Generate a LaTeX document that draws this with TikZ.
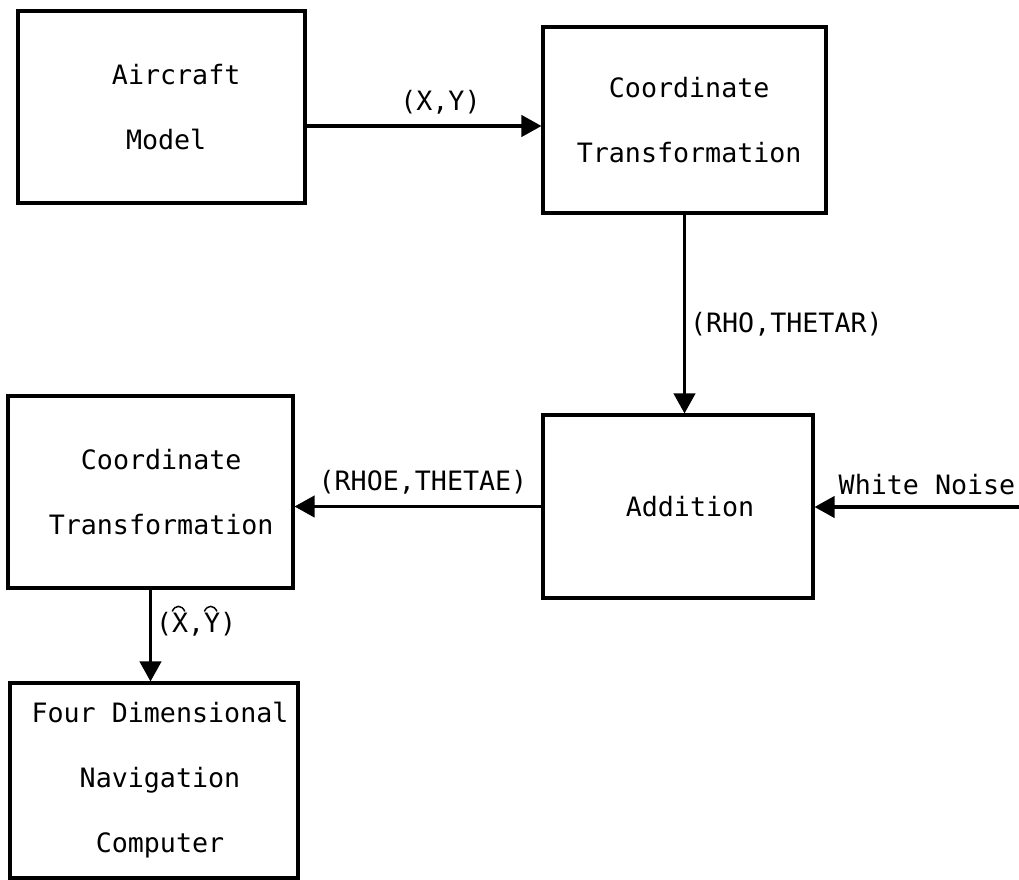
\documentclass[tikz,border=0pt]{standalone}
\usepackage{fontspec}
\setmonofont{DejaVu Sans Mono}
\usetikzlibrary{arrows.meta,calc}
\newcommand{\pushr}[1]{\hspace*{#1}}
\begin{document}
\begin{tikzpicture}[x=0.75pt,y=-0.75pt,
  every node/.style={font=\ttfamily\fontsize{20pt}{48.75pt}\selectfont},
  box/.style={draw,line width=2.3pt,align=center,inner sep=0pt},
  arr/.style={line width=2.3pt,-{Triangle[length=15pt,width=16pt]}},
  lbl/.style={inner sep=3pt},
  lblup/.style={inner xsep=3pt,inner ysep=8pt},
  hat/.style={line width=1.1pt}]
\useasboundingbox (0,0) rectangle (1019,880);
\node[box,minimum width=215.25pt,minimum height=144pt] (am) at (161.5,107) {\pushr{22pt}Aircraft\\\pushr{7pt}Model};
\node[box,minimum width=212.25pt,minimum height=139.5pt] (ct1) at (684.5,120) {\pushr{7pt}Coordinate\\\pushr{7pt}Transformation};
\node[box,minimum width=202.5pt,minimum height=137.25pt] (add) at (678,506.5) {\pushr{18pt}Addition};
\node[box,minimum width=213.75pt,minimum height=144pt] (ct2) at (150.5,492) {\pushr{16pt}Coordinate\\\pushr{16pt}Transformation};
\node[box,minimum width=216pt,minimum height=146.25pt] (nav) at (154,780.5) {\pushr{9pt}Four Dimensional\\\pushr{9pt}Navigation\\\pushr{9pt}Computer};
\coordinate (p1) at (543,126);
\coordinate (wn) at (1019,507);
\draw[arr] (am.east |- p1) -- node[lblup,above,pos=0.57] {(X,Y)} (ct1.west |- p1);
\draw[arr] (ct1.south) -- node[lbl,right,pos=0.55] {(RHO,THETAR)} (ct1.south |- add.north);
\draw[arr] (add.west) -- node[lblup,above,pos=0.48] {(RHOE,THETAE)} (add.west -| ct2.east);
\draw[arr] (wn) -- node[lblup,above,pos=0.45] {White Noise} (wn -| add.east);
\draw[arr] (ct2.south) -- node[lbl,right,pos=0.38] (hl) {(X,Y)} (ct2.south |- nav.north);
% hats over X and Y
\draw[hat] ($(hl.base west)+(16.3pt,16pt)$) .. controls ($(hl.base west)+(18.5pt,21pt)$) and ($(hl.base west)+(23.5pt,21pt)$) .. ($(hl.base west)+(25.7pt,16pt)$);
\draw[hat] ($(hl.base west)+(40.4pt,16pt)$) .. controls ($(hl.base west)+(42.6pt,21pt)$) and ($(hl.base west)+(47.6pt,21pt)$) .. ($(hl.base west)+(49.8pt,16pt)$);
\end{tikzpicture}
\end{document}
